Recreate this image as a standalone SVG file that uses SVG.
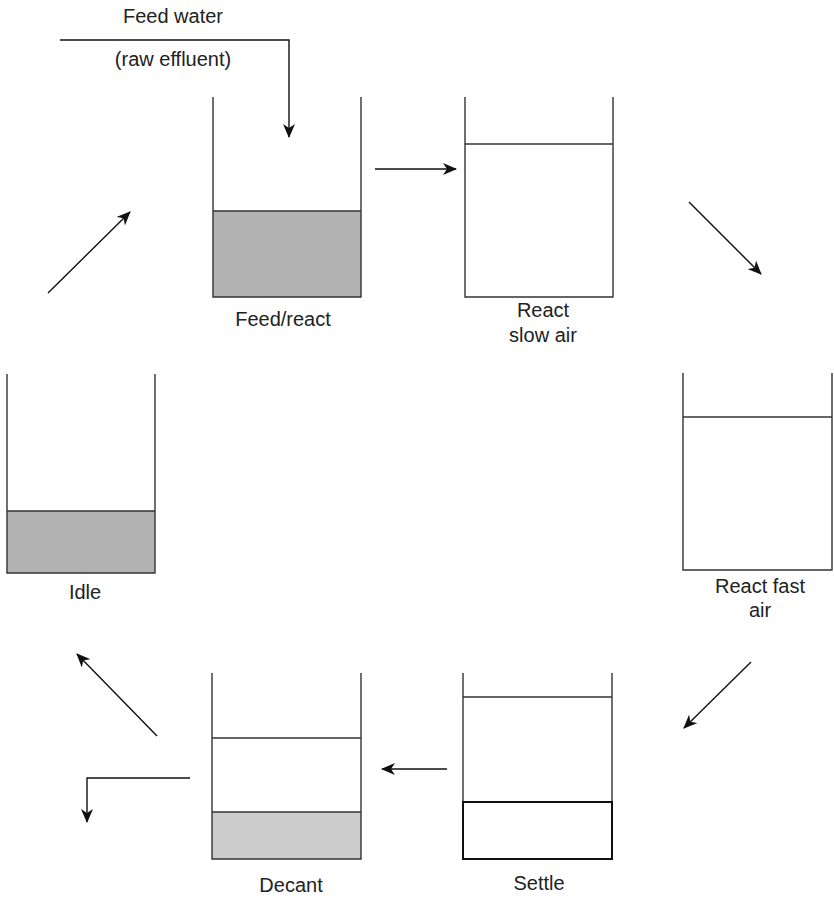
<svg xmlns="http://www.w3.org/2000/svg" width="834" height="898" viewBox="0 0 834 898">
<style>
.wall{fill:none;stroke:#333;stroke-width:1.4}
.lvl{stroke:#333;stroke-width:1.3}
.con{fill:none;stroke:#111;stroke-width:1.4}
text{font-family:"Liberation Sans",Arial,sans-serif;font-size:20px;fill:#222;text-anchor:middle}
</style>
<defs>
<marker id="ah" markerUnits="userSpaceOnUse" markerWidth="14" markerHeight="12" viewBox="0 0 14 12" refX="13" refY="6" orient="auto">
<path d="M0,0 L14,6 L0,12 L4,6 z" fill="#111"/>
</marker>
</defs>
<rect width="834" height="898" fill="#fff"/>

<g id="feed-react">
<rect x="213" y="211" width="148" height="86" fill="#b3b3b3"/>
<path class="wall" d="M213,97 V297 H361 V97"/>
<line class="lvl" x1="213" y1="211" x2="361" y2="211"/>
<text x="283" y="326">Feed/react</text>
</g>

<g id="react-slow">
<path class="wall" d="M465,97 V297 H613 V97"/>
<line class="lvl" x1="465" y1="144" x2="613" y2="144"/>
<text x="543" y="317">React</text>
<text x="543" y="342">slow air</text>
</g>

<g id="react-fast">
<path class="wall" d="M683,373 V570 H832 V373"/>
<line class="lvl" x1="683" y1="417" x2="832" y2="417"/>
<text x="760" y="593">React fast</text>
<text x="760" y="617">air</text>
</g>

<g id="settle">
<path class="wall" d="M463,673 V802 M612,673 V802"/>
<line class="lvl" x1="463" y1="697" x2="612" y2="697"/>
<rect x="463" y="802" width="149" height="57" fill="none" stroke="#111" stroke-width="2"/>
<text x="539" y="890">Settle</text>
</g>

<g id="decant">
<rect x="212" y="812" width="149" height="47" fill="#cccccc"/>
<path class="wall" d="M212,673 V859 H361 V673"/>
<line class="lvl" x1="212" y1="738" x2="361" y2="738"/>
<line class="lvl" x1="212" y1="812" x2="361" y2="812"/>
<text x="291" y="892">Decant</text>
</g>

<g id="idle">
<rect x="7" y="511" width="148" height="62" fill="#b3b3b3"/>
<path class="wall" d="M7,374 V573 H155 V374"/>
<line class="lvl" x1="7" y1="511" x2="155" y2="511"/>
<text x="85" y="599">Idle</text>
</g>

<g id="feed-label">
<text x="173" y="23">Feed water</text>
<text x="173" y="66">(raw effluent)</text>
</g>

<g id="connectors">
<path class="con" d="M60,40 H289 V137" marker-end="url(#ah)"/>
<line class="con" x1="375" y1="169" x2="456" y2="169" marker-end="url(#ah)"/>
<line class="con" x1="689" y1="202" x2="761" y2="274" marker-end="url(#ah)"/>
<line class="con" x1="751" y1="662" x2="684" y2="728" marker-end="url(#ah)"/>
<line class="con" x1="447" y1="769" x2="382" y2="769" marker-end="url(#ah)"/>
<path class="con" d="M190,778 H87 V822" marker-end="url(#ah)"/>
<line class="con" x1="157" y1="736" x2="77" y2="654" marker-end="url(#ah)"/>
<line class="con" x1="48" y1="293" x2="130" y2="212" marker-end="url(#ah)"/>
</g>
</svg>
